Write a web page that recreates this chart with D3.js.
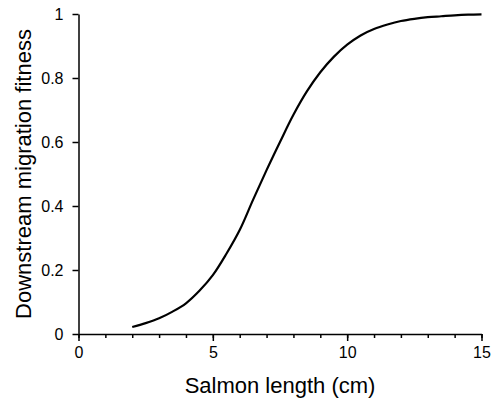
<!DOCTYPE html>
<html>
<head>
<meta charset="utf-8">
<script src="https://cdn.jsdelivr.net/npm/d3@7"></script>
<style>
    body { margin: 0; background: #fff; }
    text { font-family: "Liberation Sans", Arial, sans-serif; fill: #000; }
</style>
</head>
<body>
<svg id="chart"></svg>
<script>
// curve, every 0.5 cm
const lengths = [2, 2.5, 3, 3.5, 4, 4.5, 5, 5.5, 6, 6.5, 7, 7.5, 8, 8.5, 9, 9.5, 10, 10.5, 11, 11.5, 12, 12.5, 13, 13.5, 14, 14.5, 15]
const fitness = [0.022, 0.034, 0.049, 0.07, 0.096, 0.135, 0.184, 0.25, 0.325, 0.42, 0.512, 0.6, 0.685, 0.758, 0.818, 0.866, 0.904, 0.933, 0.953, 0.967, 0.978, 0.985, 0.99, 0.993, 0.996, 0.998, 0.999]
const xTicks = [0, 5, 10, 15]
const xMinor = d3.range(0, 16)
const yTicks = [0, 0.2, 0.4, 0.6, 0.8, 1]

let w = 491
let h = 400
let margin = {top: 14, right: 9.5, bottom: 66, left: 78.5}

let svg = d3.select("#chart")
    .attr("width", w)
    .attr("height", h)

let x = d3.scaleLinear().domain([0, 15]).range([margin.left, w - margin.right])
let y = d3.scaleLinear().domain([0, 1]).range([h - margin.bottom, margin.top])

// minor ticks first, then the main axis on top
svg.append("g")
    .attr("transform", `translate(0,${h - margin.bottom})`)
    .call(d3.axisBottom(x).tickValues(xMinor).tickSize(4).tickSizeOuter(0).tickFormat(""))
    .call(g => g.select(".domain").remove())

let xAxis = svg.append("g")
    .attr("transform", `translate(0,${h - margin.bottom})`)
    .call(d3.axisBottom(x).tickValues(xTicks).tickSize(7).tickSizeOuter(0).tickPadding(6).tickFormat(d3.format("d")))

let yAxis = svg.append("g")
    .attr("transform", `translate(${margin.left},0)`)
    .call(d3.axisLeft(y).tickValues(yTicks).tickSize(6).tickSizeOuter(0).tickPadding(9).tickFormat(d => d == 0 || d == 1 ? d : d3.format(".1f")(d)))

svg.selectAll(".tick line, .domain")
    .attr("stroke", "#000")
    .attr("stroke-width", 1.5)

svg.selectAll(".tick text")
    .attr("font-size", 16)
    .style("font-family", "Liberation Sans, Arial, sans-serif")

let points = lengths.map((l, i) => [l, fitness[i]])

svg.append("path")
    .datum(points)
    .attr("fill", "none")
    .attr("stroke", "#000")
    .attr("stroke-width", 2.2)
    .attr("d", d3.line()
        .x(d => x(d[0]))
        .y(d => y(d[1]))
        .curve(d3.curveCatmullRom.alpha(0.5)))

svg.append("text")
    .attr("x", x(7.5))
    .attr("y", 393)
    .attr("text-anchor", "middle")
    .attr("font-size", 22)
    .text("Salmon length (cm)")

svg.append("text")
    .attr("transform", `translate(31,${y(0.5)}) rotate(-90)`)
    .attr("text-anchor", "middle")
    .attr("font-size", 22)
    .text("Downstream migration fitness")
</script>
</body>
</html>
